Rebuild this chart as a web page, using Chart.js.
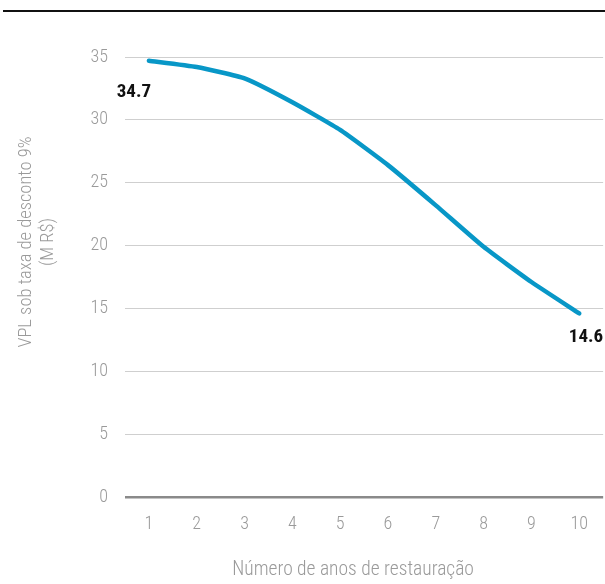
<!DOCTYPE html>
<html>
<head>
<meta charset="utf-8">
<script src="https://cdn.jsdelivr.net/npm/chart.js@4"></script>
<style>
    html, body { margin: 0; padding: 0; background: #fff; }
    #wrap { position: relative; width: 605px; height: 584px; }
    #topRule { position: absolute; left: 3px; right: 0; top: 10px; border-top: 2px solid #111; }
</style>
</head>
<body>
<div id="wrap">
    <div id="topRule"></div>
    <canvas id="npvChart" width="605" height="584"></canvas>
</div>
<script>
// Data
const years = ['1', '2', '3', '4', '5', '6', '7', '8', '9', '10'];
const npvValues = [34.7, 34.2, 33.3, 31.4, 29.2, 26.4, 23.2, 19.9, 17.1, 14.6];
const yTitle = ['VPL sob taxa de desconto 9%', '(M R$)'];
const xTitle = 'Número de anos de restauração';

const FONT = "'Roboto Condensed', 'Liberation Sans Narrow', 'Roboto', sans-serif";
const GREY = '#9a9a9a';

// bold labels under first and last points
const endLabels = {
    id: 'endLabels',
    afterDatasetsDraw(chart) {
        const meta = chart.getDatasetMeta(0);
        const ctx = chart.ctx;
        const first = meta.data[0];
        const last = meta.data[meta.data.length - 1];
        ctx.save();
        ctx.font = "bold 19px " + FONT;
        ctx.fillStyle = '#111';
        ctx.textBaseline = 'middle';
        ctx.textAlign = 'center';
        ctx.fillText(npvValues[0].toFixed(1), first.x - 15, first.y + 31);
        ctx.textAlign = 'right';
        ctx.fillText(npvValues[npvValues.length - 1].toFixed(1), chart.chartArea.right, last.y + 24);
        ctx.restore();
    }
};

// axis titles drawn by hand, the reference has them off-centre
const axisTitles = {
    id: 'axisTitles',
    afterDraw(chart) {
        const ctx = chart.ctx;
        const area = chart.chartArea;
        ctx.save();
        ctx.fillStyle = GREY;
        ctx.textAlign = 'center';
        ctx.textBaseline = 'middle';
        ctx.font = "300 19.5px " + FONT;
        ctx.fillText(xTitle, (area.left + area.right) / 2 - 11, 570);

        ctx.font = "300 18.5px " + FONT;
        ctx.translate(0, 242);
        ctx.rotate(-Math.PI / 2);
        ctx.fillText(yTitle[0], 0, 26);
        ctx.fillText(yTitle[1], 0, 48);
        ctx.restore();
    }
};

new Chart(document.getElementById('npvChart'), {
    type: 'line',
    data: {
        labels: years,
        datasets: [{
            data: npvValues,
            borderColor: '#0897c7',
            borderWidth: 4.5,
            pointRadius: 0,
            tension: 0.15,
            borderCapStyle: 'round',
            fill: false
        }]
    },
    options: {
        responsive: false,
        animation: false,
        layout: { padding: { top: 57, right: 0, left: 0, bottom: 0 } },
        plugins: {
            legend: { display: false },
            tooltip: { enabled: false }
        },
        scales: {
            x: {
                offset: true,
                grid: { display: false, drawTicks: false },
                border: { display: false },
                ticks: { color: GREY, font: { family: FONT, size: 18, weight: '300' }, padding: 17 },
                afterFit(scale) { scale.height = 87; }
            },
            y: {
                min: 0,
                max: 35,
                ticks: { stepSize: 5, color: GREY, font: { family: FONT, size: 18, weight: '300' }, padding: 17 },
                grid: {
                    drawTicks: false,
                    color: (c) => c.tick && c.tick.value === 0 ? '#8a8a8a' : '#cfcfcf',
                    lineWidth: (c) => c.tick && c.tick.value === 0 ? 2.5 : 1
                },
                border: { display: false },
                afterFit(scale) { scale.width = 125; }
            }
        }
    },
    plugins: [endLabels, axisTitles]
});
</script>
</body>
</html>
